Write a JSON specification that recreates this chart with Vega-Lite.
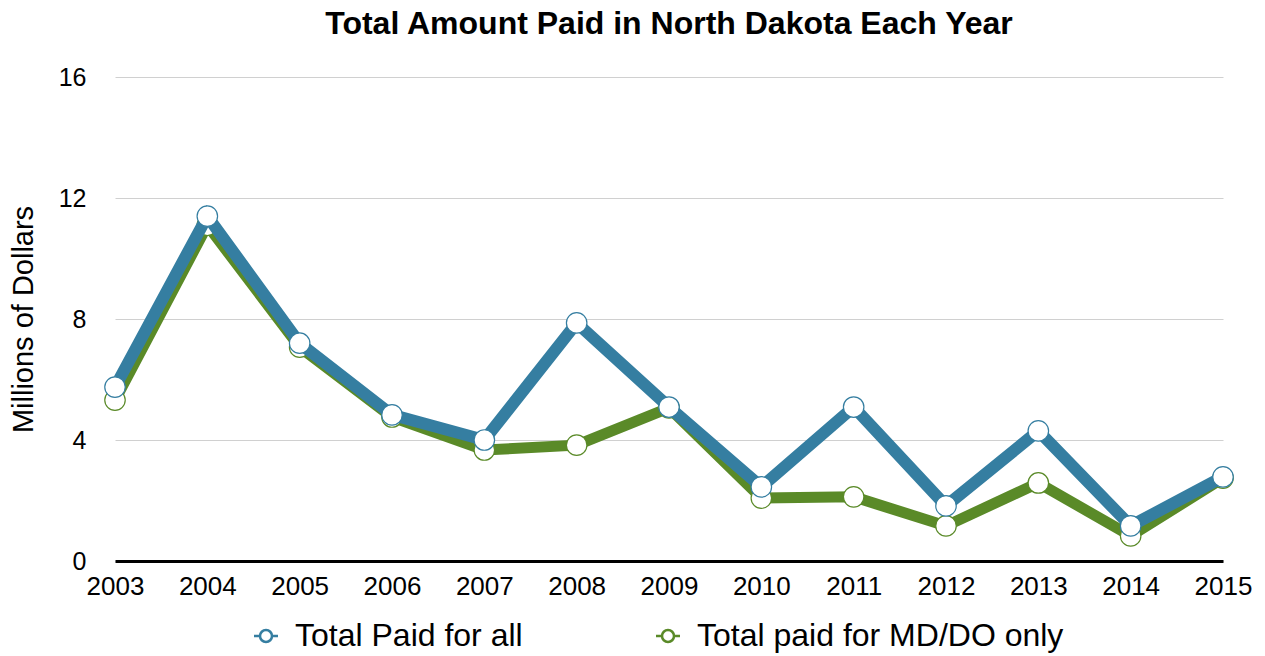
{
  "$schema": "https://vega.github.io/schema/vega-lite/v6.json",
  "width": 1108,
  "height": 484,
  "padding": {"left": 9, "top": 8, "right": 12, "bottom": 2},
  "background": "white",
  "config": {
    "font": "Liberation Sans",
    "view": {"stroke": null}
  },
  "title": {
    "text": "Total Amount Paid in North Dakota Each Year",
    "fontSize": 32,
    "fontWeight": "bold",
    "font": "Liberation Sans",
    "color": "black",
    "anchor": "middle",
    "offset": 24
  },
  "data": {
    "values": [
      {"year": "2003", "series": "Total Paid for all", "value": 5.75},
      {"year": "2004", "series": "Total Paid for all", "value": 11.4},
      {"year": "2005", "series": "Total Paid for all", "value": 7.2},
      {"year": "2006", "series": "Total Paid for all", "value": 4.83},
      {"year": "2007", "series": "Total Paid for all", "value": 4.0},
      {"year": "2008", "series": "Total Paid for all", "value": 7.87},
      {"year": "2009", "series": "Total Paid for all", "value": 5.09},
      {"year": "2010", "series": "Total Paid for all", "value": 2.45},
      {"year": "2011", "series": "Total Paid for all", "value": 5.09},
      {"year": "2012", "series": "Total Paid for all", "value": 1.82},
      {"year": "2013", "series": "Total Paid for all", "value": 4.3},
      {"year": "2014", "series": "Total Paid for all", "value": 1.16},
      {"year": "2015", "series": "Total Paid for all", "value": 2.78},
      {"year": "2003", "series": "Total paid for MD/DO only", "value": 5.32},
      {"year": "2004", "series": "Total paid for MD/DO only", "value": 11.1},
      {"year": "2005", "series": "Total paid for MD/DO only", "value": 7.07},
      {"year": "2006", "series": "Total paid for MD/DO only", "value": 4.76},
      {"year": "2007", "series": "Total paid for MD/DO only", "value": 3.67},
      {"year": "2008", "series": "Total paid for MD/DO only", "value": 3.83},
      {"year": "2009", "series": "Total paid for MD/DO only", "value": 5.06},
      {"year": "2010", "series": "Total paid for MD/DO only", "value": 2.08},
      {"year": "2011", "series": "Total paid for MD/DO only", "value": 2.12},
      {"year": "2012", "series": "Total paid for MD/DO only", "value": 1.16},
      {"year": "2013", "series": "Total paid for MD/DO only", "value": 2.58},
      {"year": "2014", "series": "Total paid for MD/DO only", "value": 0.83},
      {"year": "2015", "series": "Total paid for MD/DO only", "value": 2.74}
    ]
  },
  "encoding": {
    "x": {
      "field": "year",
      "type": "ordinal",
      "scale": {"type": "point", "padding": 0},
      "axis": {
        "title": null,
        "labelAngle": 0,
        "labelFontSize": 26,
        "labelColor": "black",
        "labelPadding": 12,
        "ticks": false,
        "domainColor": "black",
        "domainWidth": 3,
        "grid": false
      }
    },
    "y": {
      "field": "value",
      "type": "quantitative",
      "scale": {"domain": [0, 16]},
      "axis": {
        "title": "Millions of Dollars",
        "titleFontSize": 29,
        "titleFontWeight": "normal",
        "titleColor": "black",
        "titlePadding": 20,
        "values": [0, 4, 8, 12, 16],
        "labelFontSize": 25,
        "labelColor": "black",
        "labelPadding": 29,
        "ticks": false,
        "domain": false,
        "gridColor": "#d0d0d0",
        "gridWidth": 1
      }
    }
  },
  "layer": [
    {
      "transform": [{"filter": "datum.series === 'Total paid for MD/DO only'"}],
      "mark": {"type": "line", "strokeWidth": 11},
      "encoding": {
        "color": {
          "field": "series",
          "type": "nominal",
          "scale": {"domain": ["Total Paid for all", "Total paid for MD/DO only"], "range": ["#357ea1", "#5a8a28"]},
          "legend": {
            "title": null,
            "orient": "none",
            "legendX": 135,
            "legendY": 543,
            "padding": 0,
            "direction": "horizontal",
            "labelFontSize": 32,
            "labelColor": "black",
            "labelLimit": 600,
            "symbolType": "M-0.5,0 A0.5,0.5 0 1,1 0.5,0 A0.5,0.5 0 1,1 -0.5,0 M-1,0 L-0.5,0 M0.5,0 L1,0",
            "symbolSize": 576,
            "symbolFillColor": "white",
            "symbolStrokeWidth": 2.5,
            "columnPadding": 128,
            "labelOffset": 13
          }
        }
      }
    },
    {
      "transform": [{"filter": "datum.series === 'Total paid for MD/DO only'"}],
      "mark": {"type": "point", "filled": false, "fill": "white", "fillOpacity": 1, "size": 420, "strokeWidth": 1.2, "opacity": 1},
      "encoding": {
        "stroke": {
          "field": "series",
          "type": "nominal",
          "scale": {"domain": ["Total Paid for all", "Total paid for MD/DO only"], "range": ["#357ea1", "#5a8a28"]},
          "legend": null
        }
      }
    },
    {
      "transform": [{"filter": "datum.series === 'Total Paid for all'"}],
      "mark": {"type": "line", "strokeWidth": 12},
      "encoding": {
        "color": {
          "field": "series",
          "type": "nominal"
        }
      }
    },
    {
      "transform": [{"filter": "datum.series === 'Total Paid for all'"}],
      "mark": {"type": "point", "filled": false, "fill": "white", "fillOpacity": 1, "size": 420, "strokeWidth": 1.2, "opacity": 1},
      "encoding": {
        "stroke": {
          "field": "series",
          "type": "nominal",
          "legend": null
        }
      }
    }
  ]
}
